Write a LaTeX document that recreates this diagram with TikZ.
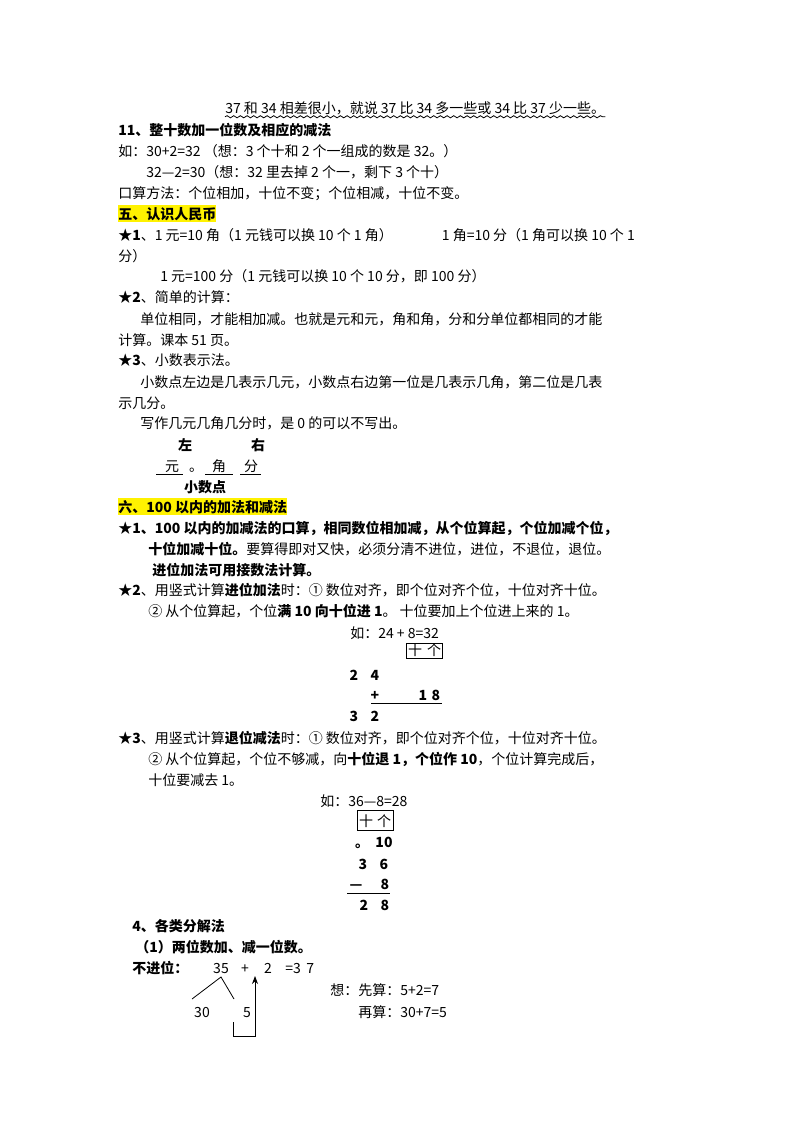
\documentclass[tikz,border=0pt]{standalone}
\usepackage{fontspec}
\setmainfont{Noto Sans CJK SC}
\usetikzlibrary{decorations.pathmorphing,arrows.meta}
\begin{document}
\fontsize{10.5pt}{12pt}\selectfont
\begin{tikzpicture}[x=0.75pt,y=-0.75pt,
  t/.style={anchor=base west,inner sep=0pt},
  c/.style={anchor=base,inner sep=0pt},
  hl/.style={anchor=base west,inner xsep=0pt,inner ysep=1.5pt,fill=yellow,font=\bfseries},
  ln/.style={line width=0.6pt}]
\useasboundingbox (0,0) rectangle (800,1132);
\node[t] (l1) at (225,113) {37 和 34 相差很小，就说 37 比 34 多一些或 34 比 37 少一些。};
\draw[ln,decorate,decoration={snake,amplitude=0.8pt,segment length=5pt}] (l1.south west)++(0,2) -- ([yshift=-1.5pt]l1.south east);
\node[t,font=\bfseries] (l2) at (118,135) {11、整十数加一位数及相应的减法};
\node[t] (l3) at (118,156) {如：30+2=32 （想：3 个十和 2 个一组成的数是 32。）};
\node[t] (l4) at (146,177) {32—2=30（想：32 里去掉 2 个一，剩下 3 个十）};
\node[t] (l5) at (118,198) {口算方法：个位相加，十位不变；个位相减，十位不变。};
\node[hl] (h5) at (118,219) {五、认识人民币};
\node[t] (m1) at (118,240) {\textbf{★1}、1 元=10 角（1 元钱可以换 10 个 1 角）\hspace{3.5em}1 角=10 分（1 角可以换 10 个 1};
\node[t] (m1b) at (118,261) {分）};
\node[t] (m2) at (160,281) {1 元=100 分（1 元钱可以换 10 个 10 分，即 100 分）};
\node[t] (m3) at (118,302) {\textbf{★2}、简单的计算：};
\node[t] (m4) at (140,324) {单位相同，才能相加减。也就是元和元，角和角，分和分单位都相同的才能};
\node[t] (m5) at (118,345) {计算。课本 51 页。};
\node[t] (m6) at (118,365) {\textbf{★3}、小数表示法。};
\node[t] (m7) at (140,387) {小数点左边是几表示几元，小数点右边第一位是几表示几角，第二位是几表};
\node[t] (m8) at (118,408) {示几分。};
\node[t] (m9) at (140,428) {写作几元几角几分时，是 0 的可以不写出。};
\node[c,font=\bfseries] (zuo) at (185,450) {左};
\node[c,font=\bfseries] (you) at (258,450) {右};
\node[c] (yuan) at (172,471) {元};
\node[c] (dot) at (196,471) {。};
\node[c] (jiao) at (219,471) {角};
\node[c] (fen) at (251,471) {分};
\draw[ln] (156,474) -- (183,474) (205,474) -- (233,474) (240,474) -- (261,474);
\node[c,font=\bfseries] (xsd) at (205,492) {小数点};
\node[hl] (h6) at (118,512) {六、100 以内的加法和减法};
\node[t,font=\bfseries] (n1) at (118,533) {★1、100 以内的加减法的口算，相同数位相加减，从个位算起，个位加减个位，};
\node[t] (n2) at (148,554) {\textbf{十位加减十位。}要算得即对又快，必须分清不进位，进位，不退位，退位。};
\node[t,font=\bfseries] (n3) at (152,575) {进位加法可用接数法计算。};
\node[t] (n4) at (118,595) {\textbf{★2}、用竖式计算\textbf{进位加法}时：① 数位对齐，即个位对齐个位，十位对齐十位。};
\node[t] (n5) at (148,616) {② 从个位算起，个位\textbf{满 10 向十位进 1}。 十位要加上个位进上来的 1。};
\node[t] (e1) at (350,638) {如：24 + 8=32};
\draw[ln] (406,643) rectangle (442,658);
\node[c] (s1) at (415,655) {十};
\node[c] (g1) at (434,655) {个};
\node[c,font=\bfseries] (a1) at (354,680) {2};
\node[c,font=\bfseries] (a2) at (375,680) {4};
\node[c,font=\bfseries] (a3) at (375,700) {+};
\node[c,font=\bfseries] (a4) at (423,700) {1};
\node[c,font=\bfseries] (a5) at (436,700) {8};
\draw[ln] (371,703) -- (442,703);
\node[c,font=\bfseries] (a6) at (354,721) {3};
\node[c,font=\bfseries] (a7) at (375,721) {2};
\node[t] (p1) at (118,743) {\textbf{★3}、用竖式计算\textbf{退位减法}时：① 数位对齐，即个位对齐个位，十位对齐十位。};
\node[t] (p2) at (148,764) {② 从个位算起，个位不够减，向\textbf{十位退 1，个位作 10}，个位计算完成后，};
\node[t] (p3) at (148,785) {十位要减去 1。};
\node[t] (e2) at (320,806) {如：36—8=28};
\draw[ln] (357,810) rectangle (393,830);
\node[c] (s2) at (366,826) {十};
\node[c] (g2) at (384,826) {个};
\node[c,font=\bfseries] (b1) at (362,847) {。};
\node[c,font=\bfseries] (b2) at (384,847) {10};
\node[c,font=\bfseries] (b3) at (363,869) {3};
\node[c,font=\bfseries] (b4) at (384,869) {6};
\node[c,font=\bfseries] (b5) at (356,889) {—};
\node[c,font=\bfseries] (b6) at (385,889) {8};
\draw[ln] (347,893) -- (390,893);
\node[c,font=\bfseries] (b7) at (364,910) {2};
\node[c,font=\bfseries] (b8) at (385,910) {8};
\node[t,font=\bfseries] (q1) at (132,931) {4、各类分解法};
\node[t,font=\bfseries] (q2) at (135,952) {（1）两位数加、减一位数。};
\node[t,font=\bfseries] (q3) at (132,973) {不进位：};
\node[c] (d35) at (221,973) {35};
\node[c] (dp) at (245,973) {+};
\node[c] (d2) at (268,973) {2};
\node[t] (d37) at (285,973) {=3\hspace{0.4em}7};
\node[c] (d30) at (202,1017) {30};
\node[c] (d5) at (247,1017) {5};
\draw[ln] (192,999) -- (221,977) -- (234,999);
\draw[ln,-{Stealth[length=6pt]}] (233,1022) -- (233,1036) -- (255,1036) -- (255,976);
\node[t] (x1) at (330,995) {想：先算：5+2=7};
\node[t] (x2) at (358,1017) {再算：30+7=5};
\end{tikzpicture}
\end{document}
